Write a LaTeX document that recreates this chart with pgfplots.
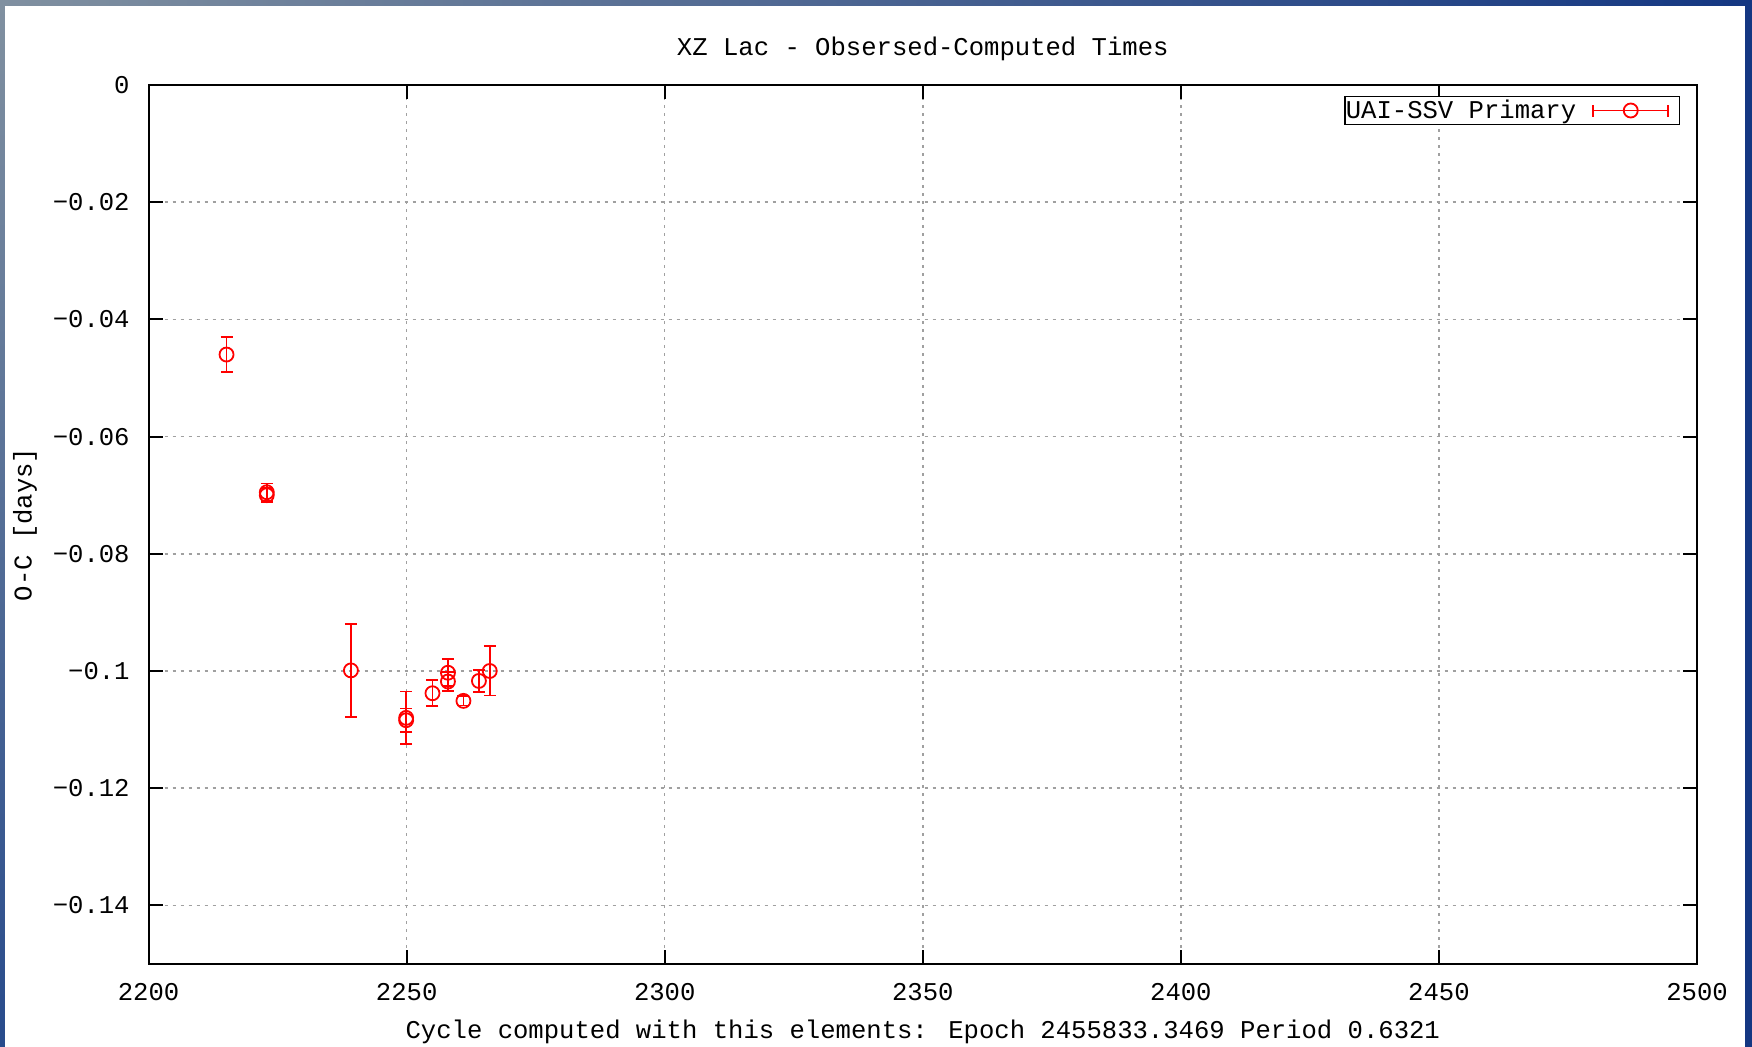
\documentclass[border=0pt]{standalone}
\usepackage{pgfplots}
\usepackage{pgfplotstable}
\pgfplotsset{compat=1.18}
\usepackage{fontspec}
\setmainfont{Liberation Mono}
\definecolor{frameL}{RGB}{128,144,160}
\definecolor{frameR}{RGB}{20,55,130}
\definecolor{frameB}{RGB}{40,75,140}
\definecolor{gridgray}{RGB}{160,160,160}

\pgfplotstableread{
x y ey
2215.1 -0.0460 0.0030
2222.9 -0.0695 0.0015
2222.9 -0.0700 0.0012
2239.2 -0.0999 0.0079
2249.9 -0.1080 0.0045
2249.9 -0.1084 0.0020
2255.0 -0.1038 0.0022
2258.0 -0.1003 0.0023
2258.0 -0.1018 0.0016
2261.0 -0.1051 0.0008
2264.0 -0.1017 0.0019
2266.1 -0.1000 0.0042
}\oc

\begin{document}
\begin{tikzpicture}
\useasboundingbox (-74.3pt,-41.5pt) rectangle (801.7pt,482pt);
\fill[white] (-74.3pt,-41.5pt) rectangle (801.7pt,482pt);
\shade[left color=frameL, right color=frameR] (-74.3pt,479pt) rectangle (801.7pt,482pt);
\shade[top color=frameL, bottom color=frameB] (-74.3pt,-41.5pt) rectangle (-71.8pt,479pt);
\fill[frameR] (798.2pt,-41.5pt) rectangle (801.7pt,479pt);
\begin{axis}[
  scale only axis, width=774.2pt, height=439.5pt,
  xmin=2200, xmax=2500, ymin=-0.15, ymax=0,
  xtick={2200,2250,2300,2350,2400,2450,2500},
  xticklabels={2200,2250,2300,2350,2400,2450,2500},
  ytick={-0.14,-0.12,-0.1,-0.08,-0.06,-0.04,-0.02,0},
  yticklabels={−0.14,−0.12,−0.1,−0.08,−0.06,−0.04,−0.02,0},
  font=\fontsize{12.8}{15}\selectfont,
  grid=major,
  major grid style={gridgray, line width=0.75pt, dash pattern=on 1.5pt off 2.5pt},
  axis line style={line width=1pt, black},
  every tick/.style={black, line width=1pt},
  major tick length=7pt,
  tick align=inside,
  xticklabel style={anchor=center, yshift=-14pt},
  yticklabel style={anchor=east, inner sep=0pt, xshift=-9.3pt},
  title={XZ Lac - Obsersed-Computed Times},
  title style={at={(axis description cs:0.5,1)}, anchor=center, yshift=12.2pt},
  xlabel={Cycle computed with this elements: Epoch 2455833.3469 Period 0.6321},
  xlabel style={at={(axis description cs:0.5,0)}, anchor=center, yshift=-34pt},
  ylabel={O-C [days]},
  ylabel style={at={(axis description cs:-0.0798,0.5)}, anchor=center},
  legend plot pos=right,
  legend style={at={(1,1)}, anchor=north east, xshift=-8.5pt, yshift=-5.5pt,
    draw=black, line width=0.75pt, inner xsep=0pt, inner ysep=0.5pt,
    font=\fontsize{12.8}{15}\selectfont,
    nodes={inner xsep=0.5pt, inner ysep=1pt}},
]
\addplot[red, only marks, mark=o, mark size=3.5pt, line width=0.9pt,
  legend image code/.code={
    \path[draw=none, fill=none] (0pt,0pt) -- (51pt,0pt);
    \draw[red, line width=0.9pt] (8pt,0pt) -- (45.5pt,0pt);
    \draw[red, line width=0.9pt] (8pt,-3pt) -- (8pt,3pt);
    \draw[red, line width=0.9pt] (45.5pt,-3pt) -- (45.5pt,3pt);
    \draw[red, line width=0.9pt] (26.75pt,0pt) circle (3.5pt);
  },
  error bars/.cd, y dir=both, y explicit,
  error bar style={red, line width=0.9pt},
  error mark options={rotate=90, red, mark size=3pt, line width=0.9pt}]
  table[x=x, y=y, y error=ey] {\oc};
\addlegendentry{UAI-SSV Primary}
\end{axis}
\end{tikzpicture}
\end{document}
